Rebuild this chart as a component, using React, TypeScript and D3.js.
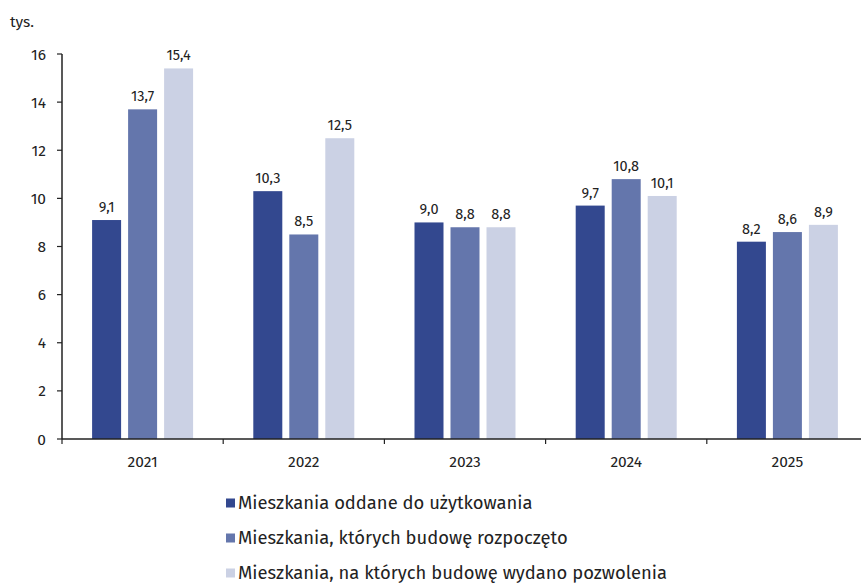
import React from "react";
import * as d3 from "d3";

const categories = ["2021", "2022", "2023", "2024", "2025"];
const seriesNames = [
  "Mieszkania oddane do użytkowania",
  "Mieszkania, których budowę rozpoczęto",
  "Mieszkania, na których budowę wydano pozwolenia",
];
const oddane = [9.1, 10.3, 9.0, 9.7, 8.2];
const rozpoczete = [13.7, 8.5, 8.8, 10.8, 8.6];
const pozwolenia = [15.4, 12.5, 8.8, 10.1, 8.9];
const yTicks = [0, 2, 4, 6, 8, 10, 12, 14, 16];
const colors = ["#33488f", "#6476ac", "#cbd1e4"];

const W = 861;
const H = 583;
const FONT = "'Fira Sans', 'Open Sans', sans-serif";

export default function App() {
  const series = [oddane, rozpoczete, pozwolenia];
  const left = 62;
  const right = 868;
  const top = 54;
  const bottom = 439;
  const x = d3.scaleBand<string>().domain(categories).range([left, right]).padding(0);
  const y = d3.scaleLinear().domain([0, 16]).range([bottom, top]);
  const barW = 29;
  const step = 36;
  const fmt = (v: number) => v.toFixed(1).replace(".", ",");

  return (
    <svg
      width={W}
      height={H}
      style={{ position: "absolute", left: 0, top: 0, background: "#fff" }}
      fontFamily={FONT}
    >
      <text x={10} y={27} fontSize={15.5} fill="#222">tys.</text>
      {categories.map((c, ci) => {
        const cx = (x(c) as number) + x.bandwidth() / 2;
        return (
          <g key={c}>
            {series.map((s, si) => {
              const bx = cx - barW / 2 + (si - 1) * step;
              const v = s[ci];
              return (
                <g key={si}>
                  <rect x={bx} y={y(v)} width={barW} height={bottom - y(v)} fill={colors[si]} />
                  <text x={bx + barW / 2} y={y(v) - 8} textAnchor="middle" fontSize={14.5} fill="#222">
                    {fmt(v)}
                  </text>
                </g>
              );
            })}
            <text x={cx} y={bottom + 28} textAnchor="middle" fontSize={15.5} fill="#222">{c}</text>
          </g>
        );
      })}
      <line x1={left} x2={left} y1={top} y2={bottom} stroke="#222" strokeWidth={1.5} />
      {yTicks.map((t) => (
        <g key={t}>
          <line x1={left - 5} x2={left} y1={y(t)} y2={y(t)} stroke="#222" strokeWidth={1.2} />
          <text x={46} y={y(t) + 5.5} textAnchor="end" fontSize={15.5} fill="#222">{t}</text>
        </g>
      ))}
      <line x1={left} x2={right} y1={bottom} y2={bottom} stroke="#222" strokeWidth={1.5} />
      {categories.map((c) => (
        <line key={c} x1={x(c) as number} x2={x(c) as number} y1={bottom} y2={bottom + 5} stroke="#222" strokeWidth={1.2} />
      ))}
      {seriesNames.map((n, i) => (
        <g key={n}>
          <rect x={226} y={498.5 + i * 35} width={9} height={9} fill={colors[i]} />
          <text x={238} y={508.5 + i * 35} fontSize={18.4} fill="#222">{n}</text>
        </g>
      ))}
    </svg>
  );
}
